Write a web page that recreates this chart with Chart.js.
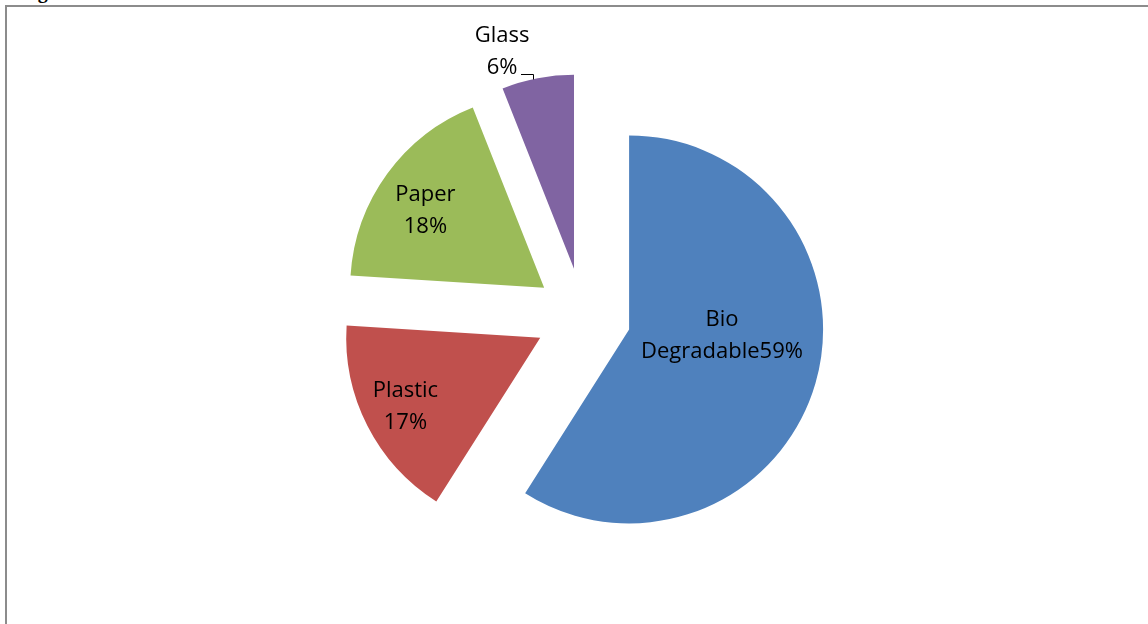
<!DOCTYPE html>
<html>
<head>
<meta charset="utf-8">
<script src="https://cdn.jsdelivr.net/npm/chart.js@4.4.1/dist/chart.umd.min.js"></script>
<style>
  html, body { margin: 0; padding: 0; background: #fff; overflow: hidden; }
  #wrap { position: relative; width: 1148px; height: 624px; }
  #frame { position: absolute; left: 5px; top: 5px; width: 1200px; height: 700px;
           border-left: 2px solid #8c8c8c; border-top: 2px solid #8c8c8c; }
  #cut { position: absolute; left: 20px; top: -20px; font: bold 20px "Liberation Serif", serif; color: #000; }
  canvas { position: absolute; left: 0; top: 0; }
</style>
</head>
<body>
<div id="wrap">
  <div id="cut">Figure</div>
  <div id="frame"></div>
  <canvas id="pie" width="1148" height="624"></canvas>
</div>
<script>
// waste composition, percent
const categories = ['Bio Degradable', 'Plastic', 'Paper', 'Glass'];
const shares = [59, 17, 18, 6];
const labelLines = [['Bio', 'Degradable59%'], ['Plastic', '17%'], ['Paper', '18%'], ['Glass', '6%']];

const colors = ['#4f81bd', '#c0504d', '#9bbb59', '#8064a2'];
const explode = 48;                              // px every slice is pulled out
const labelRadius = [0.48, 0.78, 0.73, 1.18];   // fraction of radius
const labelNudge = [-12, 0, -3, -7.5];          // degrees

// move each arc's apex out along its mid angle (same distance for all slices)
const explodeSlices = {
  id: 'explodeSlices',
  afterDatasetUpdate(chart, args) {
    args.meta.data.forEach(arc => {
      const half = (arc.startAngle + arc.endAngle) / 2;
      arc.x += Math.cos(half) * explode;
      arc.y += Math.sin(half) * explode;
    });
  }
};

const sliceLabels = {
  id: 'sliceLabels',
  afterDatasetsDraw(chart) {
    const ctx = chart.ctx;
    const meta = chart.getDatasetMeta(0);
    ctx.save();
    ctx.fillStyle = '#000';
    ctx.font = '22px "Open Sans", sans-serif';
    ctx.textAlign = 'center';
    ctx.textBaseline = 'middle';
    meta.data.forEach((arc, i) => {
      const half = (arc.startAngle + arc.endAngle) / 2;
      const a = half + labelNudge[i] * Math.PI / 180;
      const lx = arc.x + Math.cos(a) * arc.outerRadius * labelRadius[i];
      const ly = arc.y + Math.sin(a) * arc.outerRadius * labelRadius[i];
      const lines = labelLines[i];
      const lh = 32;
      lines.forEach((t, k) => {
        ctx.fillText(t, lx, ly + (k - (lines.length - 1) / 2) * lh);
      });
      if (labelRadius[i] > 1) {
        // small leader line for the outside label
        const w = ctx.measureText(lines[lines.length - 1]).width;
        const y0 = Math.round(ly + lh / 2 + 6) + 0.5;
        const x0 = Math.round(lx + w / 2 + 3);
        ctx.strokeStyle = '#000';
        ctx.lineWidth = 1;
        ctx.beginPath();
        ctx.moveTo(x0, y0);
        ctx.lineTo(x0 + 12.5, y0);
        ctx.lineTo(x0 + 12.5, y0 + 5);
        ctx.stroke();
      }
    });
    ctx.restore();
  }
};

new Chart(document.getElementById('pie'), {
  type: 'pie',
  data: {
    labels: categories,
    datasets: [{
      data: shares,
      backgroundColor: colors,
      borderWidth: 0
    }]
  },
  options: {
    responsive: false,
    animation: false,
    events: [],
    radius: 194,
    layout: { padding: { left: 18, right: 0, top: 8, bottom: 0 } },
    plugins: { legend: { display: false }, tooltip: { enabled: false } }
  },
  plugins: [explodeSlices, sliceLabels]
});
</script>
</body>
</html>
